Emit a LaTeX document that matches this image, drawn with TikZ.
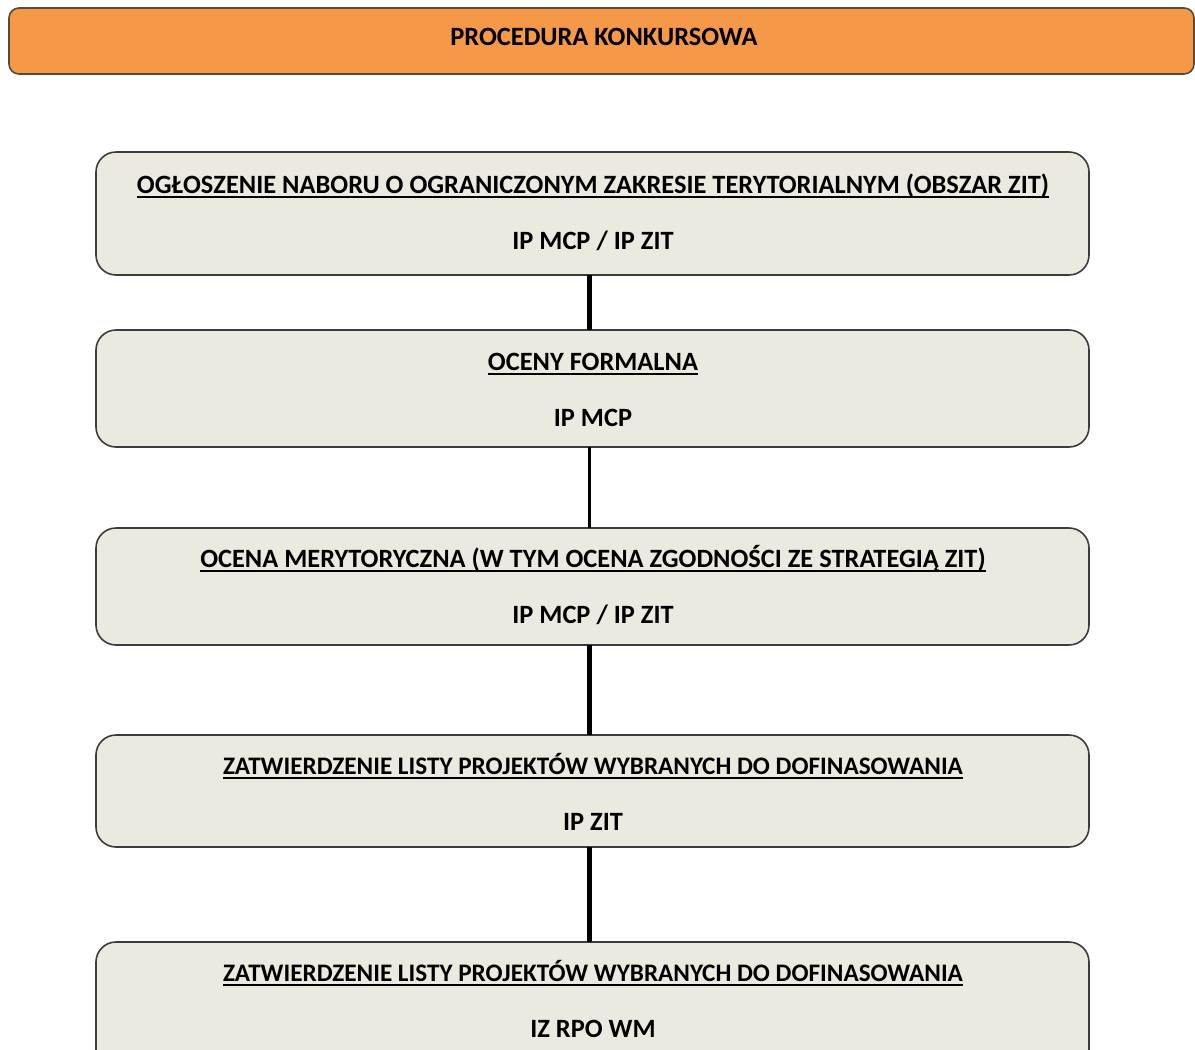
\documentclass[tikz,border=0pt]{standalone}
\usepackage{fontspec}
\setmainfont{Carlito}
\definecolor{boxfill}{HTML}{ECE9DF}
\definecolor{barfill}{HTML}{F59847}
\definecolor{edge}{HTML}{3C3C3C}
\tikzset{
  stepbox/.style={draw=edge, line width=1.6pt, fill=boxfill, rounded corners=20pt},
  bar/.style={draw=edge!80!brown, line width=1.6pt, fill=barfill, rounded corners=10pt},
  lbl/.style={font=\fontsize{26.4}{30}\selectfont\bfseries, anchor=base, text=black, inner sep=0pt},
  narrowlbl/.style={lbl, font=\fontsize{25.2}{30}\selectfont\bfseries},
  ul/.style={line width=2pt, black},
  thick conn/.style={line width=5pt, black},
  thin conn/.style={line width=3pt, black}
}
\begin{document}
\begin{tikzpicture}[x=1pt,y=-1pt]
\useasboundingbox (0,0) rectangle (1195,1050);
\fill[white] (0,0) rectangle (1195,1050);
% top bar
\draw[bar] (9,8) rectangle (1194,74);
\node[lbl] (title) at (604,45) {PROCEDURA KONKURSOWA};
% boxes
\draw[stepbox] (96,152) rectangle (1089,275);
\coordinate (b1b) at (589,275);
\draw[stepbox] (96,330) rectangle (1089,447);
\coordinate (b2t) at (589,330); \coordinate (b2b) at (589,447);
\draw[stepbox] (96,528) rectangle (1089,645);
\coordinate (b3t) at (589,528); \coordinate (b3b) at (589,645);
\draw[stepbox] (96,735) rectangle (1089,847);
\coordinate (b4t) at (589,735); \coordinate (b4b) at (589,847);
\draw[stepbox] (96,942) rectangle (1089,1072);
\coordinate (b5t) at (589,942);
% connectors
\draw[thick conn] (b1b) -- (b2t);
\draw[thin conn] (b2b) -- (b3t);
\draw[thick conn] (b3b) -- (b4t);
\draw[thick conn] (b4b) -- (b5t);
% texts
\node[lbl] (t1a) at (593,193) {OGŁOSZENIE NABORU O OGRANICZONYM ZAKRESIE TERYTORIALNYM (OBSZAR ZIT)};
\node[lbl] (t1b) at (593,249) {IP MCP / IP ZIT};
\node[lbl] (t2a) at (593,370) {OCENY FORMALNA};
\node[lbl] (t2b) at (593,426) {IP MCP};
\node[lbl] (t3a) at (593,567) {OCENA MERYTORYCZNA (W TYM OCENA ZGODNOŚCI ZE STRATEGIĄ ZIT)};
\node[lbl] (t3b) at (593,623) {IP MCP / IP ZIT};
\node[narrowlbl] (t4a) at (593,774) {ZATWIERDZENIE LISTY PROJEKTÓW WYBRANYCH DO DOFINASOWANIA};
\node[lbl] (t4b) at (593,830) {IP ZIT};
\node[narrowlbl] (t5a) at (593,981) {ZATWIERDZENIE LISTY PROJEKTÓW WYBRANYCH DO DOFINASOWANIA};
\node[lbl] (t5b) at (593,1037) {IZ RPO WM};
% underlines
\foreach \t in {t1a,t2a,t3a,t4a,t5a}
  \draw[ul] ([yshift=-3.5pt]\t.base west) -- ([yshift=-3.5pt]\t.base east);
\end{tikzpicture}
\end{document}
